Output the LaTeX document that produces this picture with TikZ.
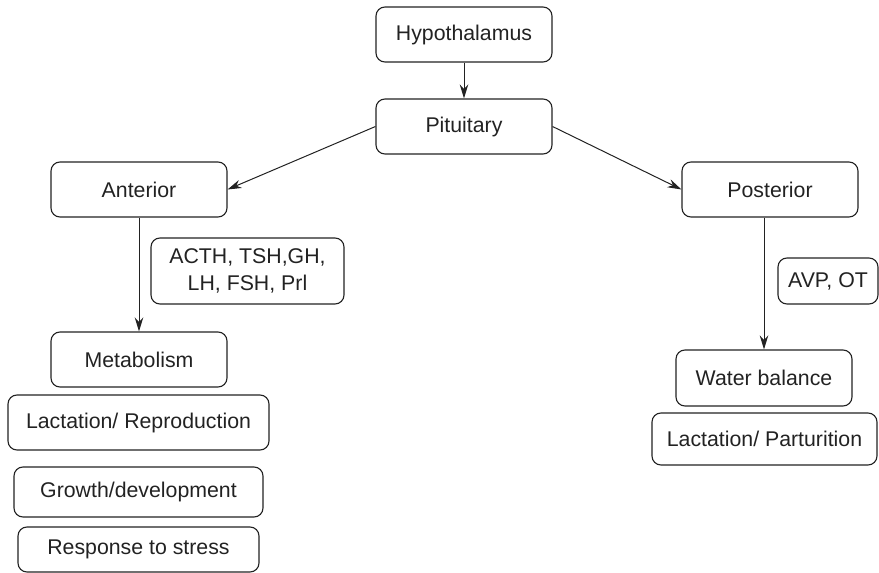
\documentclass[tikz,border=0pt]{standalone}
\usepackage{fontspec}
\setmainfont{Liberation Sans}
\usetikzlibrary{arrows.meta}
\definecolor{ink}{HTML}{222222}
\begin{document}
\begin{tikzpicture}[x=1pt,y=-1pt,
  box/.style={draw=ink, line width=1.1pt, rounded corners=9pt, inner sep=0pt,
    text=ink, font=\fontsize{21.3}{27}\selectfont, align=center},
  link/.style={draw=ink, line width=1pt, -{Stealth[length=14pt,width=8.5pt]}}]
\useasboundingbox (0,0) rectangle (879,573);
% top chain
\node[box, minimum width=176pt, minimum height=55pt] (hyp) at (464,34.5) {Hypothalamus};
\node[box, minimum width=176pt, minimum height=55pt] (pit) at (464,126.5) {Pituitary};
% anterior branch
\node[box, minimum width=176pt, minimum height=55pt] (ant) at (139,189.5) {Anterior};
\node[box, minimum width=193pt, minimum height=66pt] (ah) at (247.5,271) {ACTH, TSH,GH,\\LH, FSH, Prl};
\node[box, minimum width=176pt, minimum height=55pt] (met) at (139,359.5) {Metabolism};
\node[box, minimum width=261pt, minimum height=55pt] (lrep) at (138.5,422.5) {Lactation/ Reproduction};
\node[box, minimum width=249pt, minimum height=50pt] (grow) at (138.5,492) {Growth/development};
\node[box, minimum width=241pt, minimum height=45pt] (stress) at (138.5,549.5) {Response to stress};
% posterior branch
\node[box, minimum width=176pt, minimum height=55pt] (post) at (770,189.5) {Posterior};
\node[box, minimum width=100pt, minimum height=46pt] (ph) at (828,281) {AVP, OT};
\node[box, minimum width=176pt, minimum height=56pt] (water) at (764,378) {Water balance};
\node[box, minimum width=225pt, minimum height=52pt] (lpar) at (764.5,439) {Lactation/ Parturition};
% connectors
\draw[link] (hyp.south) -- (pit.north);
\draw[link] (pit.west) -- (ant.east);
\draw[link] (pit.east) -- (post.west);
\draw[link] (ant.south) -- (met.north);
\draw[link] (water.north |- post.south) -- (water.north);
\end{tikzpicture}
\end{document}
